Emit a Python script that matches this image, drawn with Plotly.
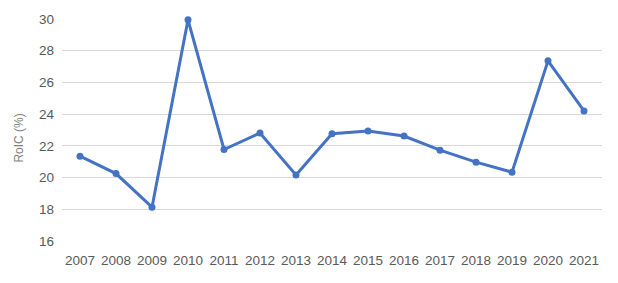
import plotly.graph_objects as go

years = ["2007", "2008", "2009", "2010", "2011", "2012", "2013", "2014",
         "2015", "2016", "2017", "2018", "2019", "2020", "2021"]
roic = [21.35, 20.25, 18.13, 29.95, 21.77, 22.81, 20.17, 22.76,
        22.93, 22.62, 21.73, 20.97, 20.34, 27.36, 24.2]
y_ticks = [16, 18, 20, 22, 24, 26, 28, 30]
y_title = "RoIC (%)"

fig = go.Figure(go.Scatter(
    x=years, y=roic, mode="lines+markers",
    line=dict(color="#4472C4", width=3),
    marker=dict(color="#4472C4", size=7),
    cliponaxis=False,
))

fig.add_annotation(text=y_title, textangle=-90, xref="paper", yref="paper",
                   x=-0.08, y=0.465, xanchor="center", yanchor="middle",
                   showarrow=False, font=dict(size=12, color="#7F7F7F"))

fig.update_layout(
    width=618, height=283,
    margin=dict(l=62, r=16, t=19, b=42, autoexpand=False),
    paper_bgcolor="white", plot_bgcolor="white",
    showlegend=False,
    font=dict(family="Liberation Sans, Arial, sans-serif", size=13, color="#595959"),
    xaxis=dict(type="category", range=[-0.5, len(years) - 0.5],
               showgrid=False, zeroline=False, showline=False,
               ticks="", automargin=False, ticklabelstandoff=9,
               tickfont=dict(size=13.5, color="#595959")),
    yaxis=dict(range=[16, 30], tickvals=y_ticks, showgrid=True, gridcolor="#D9D9D9",
               gridwidth=1, zeroline=False, showline=False, ticks="",
               automargin=False, ticklabelstandoff=7,
               tickfont=dict(size=13.5, color="#595959")),
)

fig.write_html("out.html")
